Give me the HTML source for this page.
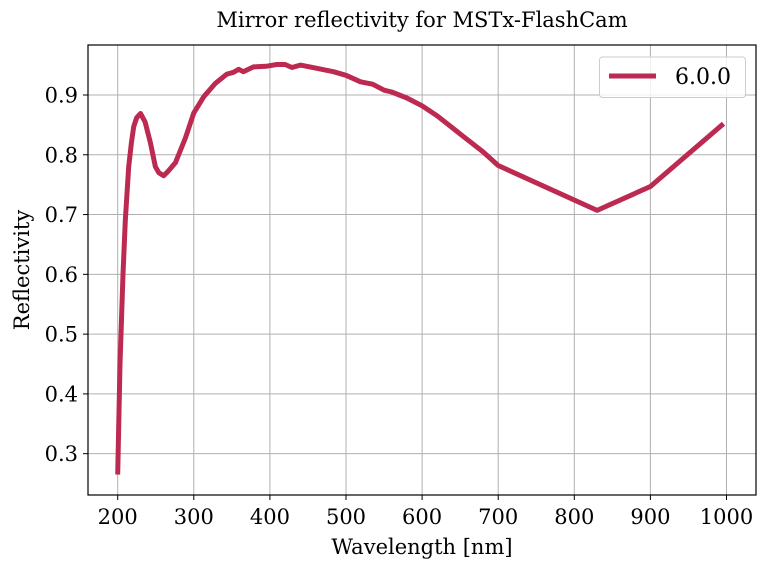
<!DOCTYPE html>
<html><head><meta charset="utf-8"><style>
html,body{margin:0;padding:0;background:#fff;}
svg text{font-family:"DejaVu Serif","Liberation Serif",serif;fill:#000;}
</style></head><body>
<svg width="766" height="568" xmlns="http://www.w3.org/2000/svg">
<g id="grid"></g>
<g id="ticks"></g>
<rect x="88" y="45" width="668" height="450" fill="none" stroke="#000" stroke-width="1.2"/>
<path id="curve" fill="none" stroke="#bc2a52" stroke-width="5" stroke-linejoin="round" stroke-linecap="butt"/>
<g>
<rect x="599.5" y="57" width="146" height="40.5" rx="3" fill="#fff" fill-opacity="0.8" stroke="#ccc"/>
<line x1="609" y1="76" x2="656" y2="76" stroke="#bc2a52" stroke-width="5"/>
<text x="675" y="84" font-size="22">6.0.0</text>
</g>
<text x="422" y="27" font-size="21" text-anchor="middle">Mirror reflectivity for MSTx-FlashCam</text>
<text x="422" y="554" font-size="21" text-anchor="middle">Wavelength [nm]</text>
<text transform="translate(29,270) rotate(-90)" font-size="21" text-anchor="middle">Reflectivity</text>
</svg>
<script>
const wavelengths=[200,203,207,210,214.5,218,221,225,230,236,243,249.5,254,260.5,266,276,289,300,313,328,343.5,352,359,365,378.5,395,409,420,429,440,460,483.5,500,519,535,550,560,580,600,620,650,680,700,830,900,996];
const reflectivity=[0.265,0.45,0.6,0.69,0.78,0.82,0.847,0.862,0.869,0.855,0.82,0.78,0.77,0.765,0.772,0.787,0.828,0.87,0.897,0.919,0.935,0.938,0.943,0.939,0.947,0.948,0.951,0.951,0.946,0.95,0.945,0.939,0.933,0.922,0.918,0.908,0.905,0.895,0.882,0.865,0.835,0.805,0.782,0.707,0.747,0.852];
const xTicks=[200,300,400,500,600,700,800,900,1000];
const yTicks=[0.3,0.4,0.5,0.6,0.7,0.8,0.9];
const X=w=>117.7+(w-200)*0.761;
const Y=v=>95+(0.9-v)*597.8;
const ns="http://www.w3.org/2000/svg";
const grid=document.getElementById('grid'),ticks=document.getElementById('ticks');
xTicks.forEach(t=>{
 const l=document.createElementNS(ns,'line');
 l.setAttribute('x1',X(t));l.setAttribute('x2',X(t));l.setAttribute('y1',45);l.setAttribute('y2',495);
 l.setAttribute('stroke','#b0b0b0');l.setAttribute('stroke-width','1');
 
 
 grid.appendChild(l);
 const k=document.createElementNS(ns,'line');
 k.setAttribute('x1',X(t));k.setAttribute('x2',X(t));k.setAttribute('y1',495);k.setAttribute('y2',500);k.setAttribute('stroke','#000');
 
 
 ticks.appendChild(k);
 const tx=document.createElementNS(ns,'text');
 tx.setAttribute('x',X(t));tx.setAttribute('y',524);tx.setAttribute('font-size','21');tx.setAttribute('text-anchor','middle');
 tx.textContent=t;
 
 
 ticks.appendChild(tx);
});
yTicks.forEach(t=>{
 const l=document.createElementNS(ns,'line');
 l.setAttribute('x1',88);l.setAttribute('x2',756);l.setAttribute('y1',Y(t));l.setAttribute('y2',Y(t));
 l.setAttribute('stroke','#b0b0b0');l.setAttribute('stroke-width','1');
 
 
 grid.appendChild(l);
 const k=document.createElementNS(ns,'line');
 k.setAttribute('x1',83);k.setAttribute('x2',88);k.setAttribute('y1',Y(t));k.setAttribute('y2',Y(t));k.setAttribute('stroke','#000');
 
 
 ticks.appendChild(k);
 const tx=document.createElementNS(ns,'text');
 tx.setAttribute('x',78);tx.setAttribute('y',Y(t)+7.5);tx.setAttribute('font-size','21');tx.setAttribute('text-anchor','end');
 tx.textContent=t.toFixed(1);
 
 
 ticks.appendChild(tx);
});
document.getElementById('curve').setAttribute('d',wavelengths.map((w,i)=>(i?'L':'M')+X(w).toFixed(1)+','+Y(reflectivity[i]).toFixed(1)).join(''));
</script>
</body></html>
